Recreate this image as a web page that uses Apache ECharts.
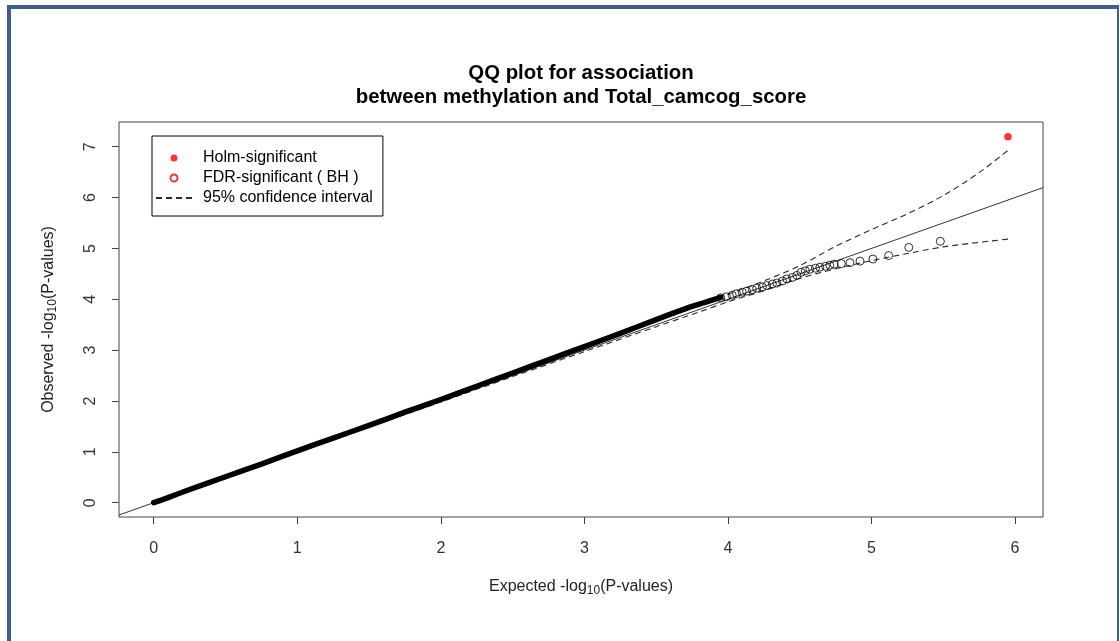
<!DOCTYPE html>
<html>
<head>
<meta charset="utf-8">
<script src="https://cdn.jsdelivr.net/npm/echarts@6/dist/echarts.min.js"></script>
<style>
  html, body { margin: 0; padding: 0; background: #ffffff; }
  #chart { width: 1120px; height: 641px; }
</style>
</head>
<body>
<div id="chart"></div>
<script>
// ---- tick labels / axis ranges ----
const xTicks = [0, 1, 2, 3, 4, 5, 6];
const yTicks = [0, 1, 2, 3, 4, 5, 6, 7];
const xRange = [-0.242, 6.195];
const yRange = [-0.281, 7.486];

// ---- reference line (slope 1 through origin), endpoints at plot edges ----
const refLineX = [-0.242, 6.195];
const refLineY = [-0.242, 6.195];

// ---- 95% confidence interval ----
const ciX     = [0, 0.5, 1, 1.5, 2, 2.5, 3, 3.5, 3.8, 4.0, 4.25, 4.5, 4.75, 5.0, 5.25, 5.5, 5.75, 5.96];
const ciUpper = [0.01, 0.51, 1.01, 1.52, 2.03, 2.54, 3.06, 3.58, 3.90, 4.10, 4.36, 4.66, 5.04, 5.37, 5.68, 6.04, 6.49, 6.95];
const ciLower = [0, 0.49, 0.99, 1.49, 1.98, 2.48, 2.97, 3.46, 3.75, 3.95, 4.17, 4.41, 4.60, 4.76, 4.90, 5.03, 5.12, 5.185];

// ---- observed -log10(p): dense body (drawn as a thick trace) ----
const bandX = [0, 0.1, 0.25, 0.5, 0.75, 1.0, 1.25, 1.5, 1.75, 2.0, 2.25, 2.5, 2.75, 3.0, 3.25, 3.5, 3.75, 3.95];
const bandY = [0, 0.1, 0.26, 0.51, 0.76, 1.02, 1.27, 1.52, 1.78, 2.03, 2.29, 2.55, 2.81, 3.07, 3.33, 3.60, 3.86, 4.04];

// ---- observed -log10(p): sparse tail points ----
const tailX = [3.95, 3.99, 4.03, 4.06, 4.10, 4.13, 4.17, 4.20, 4.24, 4.27, 4.31, 4.34, 4.38, 4.41, 4.45, 4.48, 4.51, 4.54, 4.57, 4.61, 4.64, 4.68, 4.71, 4.74, 4.79, 4.85, 4.92, 5.01, 5.12, 5.26, 5.48];
const tailY = [4.03, 4.05, 4.08, 4.11, 4.14, 4.16, 4.19, 4.22, 4.24, 4.27, 4.30, 4.32, 4.36, 4.40, 4.43, 4.47, 4.53, 4.56, 4.59, 4.61, 4.63, 4.65, 4.67, 4.69, 4.70, 4.72, 4.75, 4.79, 4.86, 5.02, 5.14];

// ---- Holm-significant / FDR-significant ----
const holmX = [5.951];
const holmY = [7.196];
const fdrX = [];
const fdrY = [];

const zip = (xs, ys) => xs.map((x, i) => [x, ys[i]]);

const FONT = 'Liberation Sans, Arial, sans-serif';
const AXC = '#444444';

const chart = echarts.init(document.getElementById('chart'), null, { renderer: 'canvas' });

const option = {
  backgroundColor: '#ffffff',
  animation: false,
  title: {
    text: 'QQ plot for association\nbetween methylation and Total_camcog_score',
    left: 581,
    top: 61,
    textAlign: 'center',
    padding: 0,
    textStyle: { fontFamily: FONT, fontSize: 20.4, fontWeight: 'bold', color: '#000', lineHeight: 24 }
  },
  legend: {
    left: 152,
    top: 136,
    orient: 'vertical',
    padding: [12, 10, 8, 3],
    borderColor: '#000',
    borderWidth: 1,
    borderRadius: 0,
    itemGap: 0,
    itemWidth: 36,
    itemHeight: 7,
    textStyle: { fontFamily: FONT, fontSize: 16, color: '#000', lineHeight: 20, padding: [0, 0, 0, 6] },
    data: [
      'Holm-significant',
      'FDR-significant ( BH )',
      { name: '95% confidence interval', itemStyle: { color: 'rgba(0,0,0,0)', borderColor: 'rgba(0,0,0,0)', opacity: 0 } }
    ]
  },
  grid: {
    left: 119, right: 77, top: 122, bottom: 124,
    show: true, borderColor: AXC, borderWidth: 1, backgroundColor: 'transparent'
  },
  xAxis: {
    type: 'value',
    min: xRange[0], max: xRange[1],
    axisLine: { show: false, onZero: false },
    splitLine: { show: false },
    axisTick: { show: true, inside: false, length: 7, customValues: xTicks, lineStyle: { color: AXC, width: 1 } },
    axisLabel: { customValues: xTicks, margin: 24, fontFamily: FONT, fontSize: 16, color: '#333' },
    name: '{a|Expected -log}{s|10}{a|(P-values)}',
    nameLocation: 'middle',
    nameGap: 60,
    nameTextStyle: {
      rich: {
        a: { fontFamily: FONT, fontSize: 16, color: '#222', lineHeight: 18, verticalAlign: 'bottom' },
        s: { fontFamily: FONT, fontSize: 12, color: '#222', lineHeight: 18, verticalAlign: 'bottom', padding: [0, 0, -2, 0] }
      }
    }
  },
  yAxis: {
    type: 'value',
    min: yRange[0], max: yRange[1],
    axisLine: { show: false, onZero: false },
    splitLine: { show: false },
    axisTick: { show: true, inside: false, length: 7, customValues: yTicks, lineStyle: { color: AXC, width: 1 } },
    axisLabel: { customValues: yTicks, margin: 20, rotate: 90, fontFamily: FONT, fontSize: 16, color: '#333' },
    name: '{a|Observed -log}{s|10}{a|(P-values)}',
    nameLocation: 'middle',
    nameRotate: 90,
    nameGap: 62,
    nameTextStyle: {
      rich: {
        a: { fontFamily: FONT, fontSize: 16, color: '#222', lineHeight: 18, verticalAlign: 'bottom' },
        s: { fontFamily: FONT, fontSize: 12, color: '#222', lineHeight: 18, verticalAlign: 'bottom', padding: [0, 0, -2, 0] }
      }
    }
  },
  graphic: [
    { type: 'rect', left: 7, top: 5, shape: { width: 1112, height: 4 }, style: { fill: '#3d5f8e' }, silent: true },
    { type: 'rect', left: 7, top: 5, shape: { width: 4, height: 636 }, style: { fill: '#3d5f8e' }, silent: true },
    { type: 'rect', left: 1117, top: 5, shape: { width: 2, height: 636 }, style: { fill: '#3d5f8e' }, silent: true }
  ],
  series: [
    {
      name: 'reference', type: 'line', data: zip(refLineX, refLineY),
      symbol: 'none', lineStyle: { color: '#333', width: 1 }, z: 2, clip: true
    },
    {
      name: '95% confidence interval', type: 'line', data: zip(ciX, ciUpper),
      symbol: 'none', smooth: 0.3, lineStyle: { color: '#2a2a2a', width: 1.1, type: [6, 4] }, itemStyle: { color: '#2a2a2a' }, z: 3
    },
    {
      name: '95% confidence interval', type: 'line', data: zip(ciX, ciLower),
      symbol: 'none', smooth: 0.3, lineStyle: { color: '#2a2a2a', width: 1.1, type: [6, 4] }, itemStyle: { color: '#2a2a2a' }, z: 3
    },
    {
      name: 'observed', type: 'line', data: zip(bandX, bandY),
      symbol: 'none', smooth: 0.2, lineStyle: { color: '#000', width: 5.5, cap: 'round', join: 'round' }, z: 4
    },
    {
      name: 'observed tail', type: 'scatter', data: zip(tailX, tailY),
      symbol: 'circle', symbolSize: 8,
      itemStyle: { color: 'rgba(0,0,0,0)', borderColor: '#000', borderWidth: 1 }, z: 5
    },
    {
      name: 'FDR-significant ( BH )', type: 'scatter', data: zip(fdrX, fdrY),
      symbol: 'emptyCircle', symbolSize: 7,
      itemStyle: { color: '#ff0000', borderColor: '#ff0000', borderWidth: 1 }, z: 6
    },
    {
      name: 'Holm-significant', type: 'scatter', data: zip(holmX, holmY),
      symbol: 'circle', symbolSize: 7.5,
      itemStyle: { color: '#ff0000' }, z: 7
    }
  ]
};

chart.setOption(option);
</script>
</body>
</html>
